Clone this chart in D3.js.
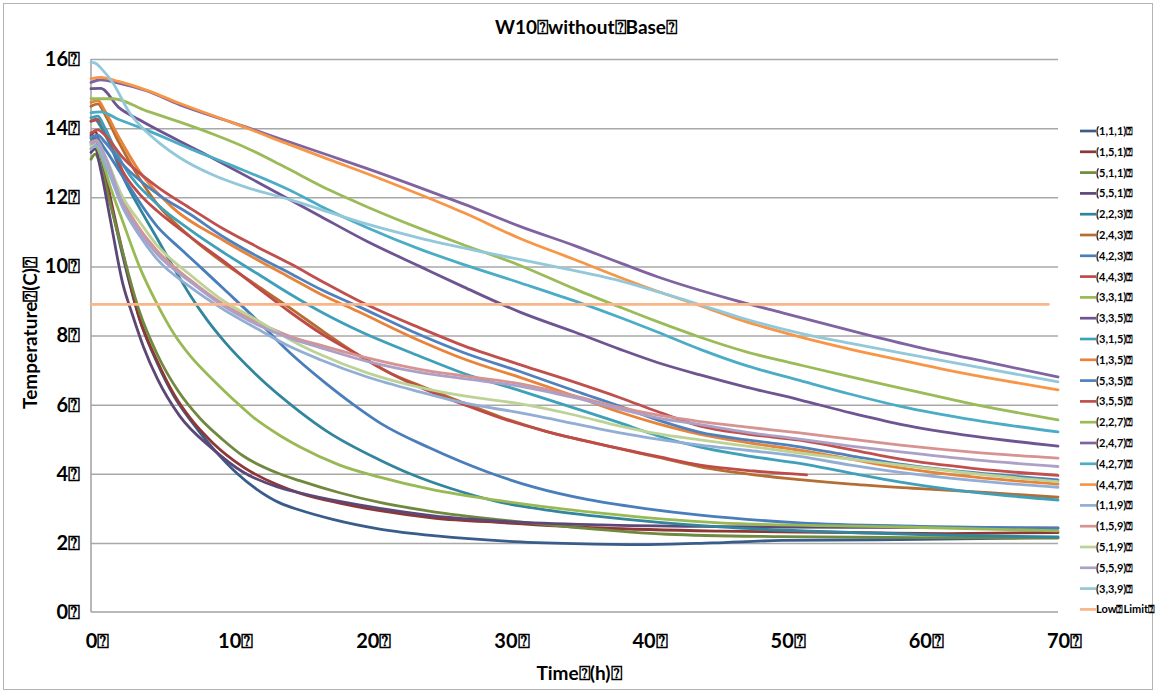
<!DOCTYPE html>
<html>
<head>
<meta charset="utf-8">
<script src="https://cdn.jsdelivr.net/npm/d3@7"></script>
<style>
  html, body { margin: 0; padding: 0; background: #ffffff; }
  svg { display: block; }
  text { font-family: Lato, "Open Sans", "DejaVu Sans", sans-serif; font-weight: bold; fill: #000; }
</style>
</head>
<body>
<svg id="chart" width="1156" height="694"></svg>
<script>
// ---------------- DATA ----------------
const chartTitle = "W10⍰without⍰Base⍰";
const xTitle = "Time⍰(h)⍰";
const yTitle = "Temperature⍰(C)⍰";
const xTicks = [0, 10, 20, 30, 40, 50, 60, 70];
const yTicks = [0, 2, 4, 6, 8, 10, 12, 14, 16];

const seriesNames = ["(1,1,1)", "(1,5,1)", "(5,1,1)", "(5,5,1)", "(2,2,3)", "(2,4,3)", "(4,2,3)", "(4,4,3)",
  "(3,3,1)", "(3,3,5)", "(3,1,5)", "(1,3,5)", "(5,3,5)", "(3,5,5)", "(2,2,7)", "(2,4,7)", "(4,2,7)", "(4,4,7)",
  "(1,1,9)", "(1,5,9)", "(5,1,9)", "(5,5,9)", "(3,3,9)", "Low⍰Limit"];

// [time (h), temperature (C)]
const s111 = [[0,13.6],[0.3,13.7],[0.7,13.2],[1.4,11.9],[2.3,10.3],[3.5,8.5],[4.8,7.2],[6,6.25],[7.2,5.55],[8.8,4.75],[10.6,4.0],[12,3.55],[13.7,3.15],[15.1,2.95],[17.5,2.68],[20.9,2.4],[25,2.2],[30,2.05],[35,1.98],[40,1.95],[45,2.0],[50,2.07],[60,2.1],[70,2.15]];
const s151 = [[0,13.8],[0.3,13.9],[0.7,13.4],[1.4,12.0],[2.3,10.4],[3.5,8.5],[4.8,7.25],[6,6.3],[7.2,5.6],[8.8,4.9],[11,4.2],[13.5,3.68],[15.1,3.44],[18,3.15],[20.9,2.93],[24.8,2.72],[30,2.58],[36.9,2.43],[45.5,2.34],[55,2.3],[62,2.27],[70,2.3]];
const s511 = [[0,13.1],[0.3,13.25],[0.7,12.9],[1.4,11.8],[2.3,10.4],[3.5,8.7],[4.8,7.45],[6.3,6.4],[7.9,5.6],[9.5,5.0],[11,4.52],[13.5,4.02],[15.1,3.8],[18,3.45],[20.9,3.17],[24.8,2.9],[30,2.65],[35,2.45],[41.7,2.25],[50,2.18],[60,2.15],[70,2.14]];
const s551 = [[0,13.3],[0.3,13.4],[0.7,12.8],[1.4,11.35],[2.3,9.5],[3,8.6],[3.8,7.67],[4.8,6.75],[6.4,5.68],[8.8,4.72],[11,4.05],[13.5,3.62],[15.1,3.45],[18,3.2],[20.9,3.0],[24.8,2.78],[30,2.62],[36.9,2.52],[45.5,2.47],[55,2.45],[62,2.44],[70,2.43]];
const s223 = [[0,14.2],[0.3,14.25],[0.7,14.05],[1.4,13.5],[2.3,12.6],[3.5,11.7],[4.8,10.8],[6,9.95],[7.2,9.15],[8.4,8.45],[9.6,7.85],[12,6.85],[15.1,5.8],[17,5.25],[20.9,4.4],[23.1,4.0],[26,3.58],[29.6,3.18],[33,2.95],[36.9,2.76],[45.5,2.46],[55,2.3],[62,2.22],[70,2.17]];
const s243 = [[0,14.63],[0.5,14.7],[1,14.4],[2,13.6],[3.5,12.55],[4.8,11.8],[7.2,10.85],[9.6,10.1],[12,9.45],[14.4,8.8],[16.8,8.12],[19.3,7.45],[21.7,6.9],[23.8,6.55],[27,6.05],[29.6,5.65],[33,5.22],[36.9,4.85],[41,4.48],[44.1,4.2],[48,3.97],[51.3,3.83],[55,3.7],[60,3.57],[65,3.45],[70,3.32]];
const s423 = [[0,13.7],[0.3,13.75],[1,13.4],[2.3,12.6],[4.8,11.15],[6.5,10.5],[8,9.95],[9.6,9.35],[12,8.45],[14.4,7.5],[16.8,6.68],[19,6.0],[21,5.45],[24.5,4.75],[28.7,4.05],[32,3.62],[36,3.25],[40,3.0],[44.1,2.8],[51.3,2.58],[60,2.48],[70,2.42]];
const s443 = [[0,14.2],[0.5,14.25],[1,14.0],[2.3,12.75],[3.5,12.1],[4.8,11.6],[7.2,10.85],[9.6,10.15],[12,9.4],[14.4,8.68],[16.8,8.02],[19.3,7.45],[21.7,6.9],[23.8,6.5],[27,6.0],[29.6,5.62],[33,5.22],[36.9,4.85],[41,4.5],[44.1,4.25],[48,4.08],[51.8,3.97]];
const s331 = [[0,13.4],[0.3,13.5],[0.7,13.2],[1.4,12.3],[2.3,11.3],[3.5,10.0],[4.8,8.9],[6,8.05],[7.2,7.4],[9,6.65],[10.3,6.15],[11.7,5.65],[13.7,5.1],[15.1,4.78],[18,4.25],[20.9,3.9],[24.8,3.53],[29.6,3.22],[36.9,2.86],[45.5,2.58],[58.6,2.46],[70,2.35]];
const s335 = [[0,15.14],[0.7,15.15],[2,14.6],[3.5,14.24],[8,13.3],[12,12.45],[16.6,11.45],[20,10.72],[23.8,10.0],[27,9.4],[31.1,8.67],[35,8.1],[38.3,7.6],[41,7.22],[44.1,6.86],[47.5,6.5],[51.3,6.14],[55,5.76],[58.6,5.43],[64,5.08],[70,4.8]];
const s315 = [[0,14.3],[0.5,14.35],[1,14.0],[2.3,12.95],[4.8,11.8],[7.2,11.05],[9.6,10.4],[12,9.8],[14.4,9.2],[16.8,8.65],[19.3,8.15],[23.8,7.4],[27,6.9],[31.1,6.4],[35,5.9],[38.3,5.47],[41,5.1],[44.1,4.77],[47.5,4.52],[51.3,4.3],[55,4.02],[58.6,3.76],[64,3.46],[70,3.24]];
const s135 = [[0,14.74],[0.5,14.8],[1,14.5],[2,13.75],[3.5,12.75],[5.9,11.7],[9.6,10.75],[12,10.2],[14.4,9.68],[16.6,9.2],[19.3,8.7],[23.8,7.85],[27,7.32],[31.1,6.78],[35,6.25],[38.3,5.78],[41,5.45],[44.1,5.14],[47.5,4.9],[51.3,4.68],[55,4.42],[58.6,4.17],[64,3.9],[70,3.7]];
const s535 = [[0,13.75],[0.5,13.8],[1,13.6],[2.3,12.95],[4.8,12.1],[7.2,11.5],[9.6,10.85],[12,10.3],[14.4,9.8],[16.8,9.3],[19.3,8.85],[23.8,8.02],[27,7.5],[31.1,6.95],[35,6.4],[38.3,5.95],[41,5.56],[44.1,5.2],[47.5,4.98],[51.3,4.78],[55,4.52],[58.6,4.28],[64,4.03],[70,3.82]];
const s355 = [[0,13.86],[0.5,13.95],[1,13.8],[2.3,13.15],[4.8,12.3],[7.2,11.68],[9.6,11.08],[12,10.57],[14.4,10.08],[16.8,9.55],[19.3,9.02],[23.8,8.22],[27,7.7],[31.1,7.15],[35,6.65],[38.3,6.2],[41,5.8],[44.1,5.38],[47.5,5.15],[51.3,4.97],[55,4.7],[58.6,4.42],[64,4.15],[70,3.95]];
const s227 = [[0,14.85],[1.6,14.85],[4,14.5],[6.4,14.18],[9,13.8],[11.3,13.42],[14,12.88],[17.3,12.2],[20,11.72],[23.8,11.1],[27,10.62],[31.1,10.02],[35,9.35],[38.3,8.82],[41,8.4],[44.1,7.95],[47.5,7.52],[51.3,7.15],[55,6.8],[58.6,6.48],[64,6.0],[70,5.56]];
const s247 = [[0,15.32],[0.7,15.4],[2,15.3],[4,15.08],[6.4,14.68],[9.8,14.22],[11.3,14.02],[14,13.65],[17.3,13.2],[20,12.83],[23.8,12.28],[27,11.8],[31.1,11.15],[35,10.6],[38.3,10.1],[41,9.7],[46.5,9.03],[50,8.66],[56.2,8.02],[60,7.65],[65,7.22],[70,6.8]];
const s427 = [[0,14.45],[0.7,14.47],[2,14.25],[4,13.95],[7.2,13.4],[10,12.95],[14.4,12.2],[16.6,11.75],[20,11.12],[23.8,10.5],[27,10.05],[31.1,9.52],[35,9.0],[38.3,8.52],[41,8.1],[44.1,7.6],[47.5,7.12],[51.3,6.7],[55,6.3],[58.6,5.95],[64,5.55],[70,5.21]];
const s447 = [[0,15.43],[0.7,15.47],[2,15.35],[4,15.1],[6.4,14.72],[9.8,14.22],[11.3,14.0],[14,13.58],[17.3,13.08],[20,12.68],[23.8,12.08],[27,11.55],[31.1,10.8],[35,10.2],[38.3,9.68],[41,9.28],[44.1,8.86],[47,8.45],[51.3,7.96],[55,7.6],[58.6,7.29],[62,7.0],[66,6.7],[70,6.43]];
const s119 = [[0,13.4],[0.4,13.5],[1,13.0],[2.3,11.7],[3.5,10.9],[4.8,10.2],[7.2,9.4],[9.6,8.75],[12,8.2],[14.4,7.68],[16.6,7.3],[20,6.8],[23.8,6.37],[27,6.05],[31.1,5.76],[35,5.45],[38.3,5.18],[41,5.0],[44.1,4.83],[47.5,4.68],[51.3,4.5],[55,4.25],[58.6,4.04],[64,3.8],[70,3.61]];
const s159 = [[0,13.6],[0.4,13.65],[1,13.2],[2.3,11.9],[3.5,11.1],[4.8,10.45],[7.2,9.6],[9.6,8.9],[12,8.4],[14.4,7.98],[16.6,7.72],[20,7.35],[23.8,7.02],[27,6.83],[31.1,6.6],[35,6.25],[38.3,5.92],[41,5.7],[44.1,5.51],[47.5,5.35],[51.3,5.18],[55,5.0],[58.6,4.83],[64,4.62],[70,4.45]];
const s519 = [[0,13.5],[0.4,13.6],[1,13.2],[2.3,12.0],[3.5,11.3],[4.8,10.6],[7.2,9.75],[9.6,9.0],[12,8.45],[14.4,7.88],[16.6,7.45],[20,6.92],[23.8,6.5],[27,6.25],[31.1,6.02],[35,5.7],[38.3,5.38],[41,5.16],[44.1,4.98],[47.5,4.8],[51.3,4.6],[55,4.42],[58.6,4.25],[64,4.0],[70,3.77]];
const s559 = [[0,13.55],[0.4,13.6],[1,13.2],[2.3,11.8],[3.5,11.0],[4.8,10.35],[7.2,9.55],[9.6,8.85],[12,8.32],[14.4,7.92],[16.6,7.65],[20,7.25],[23.8,6.93],[27,6.75],[31.1,6.53],[35,6.2],[38.3,5.87],[41,5.62],[44.1,5.42],[47.5,5.2],[51.3,5.0],[55,4.8],[58.6,4.63],[64,4.4],[70,4.21]];
const s339 = [[0,15.9],[0.3,15.88],[0.8,15.7],[1.6,15.3],[2.8,14.44],[4,13.9],[5,13.55],[6.4,13.15],[8.8,12.65],[11.3,12.28],[14.4,11.93],[16.6,11.65],[20,11.22],[23.8,10.82],[28.7,10.39],[33.5,10.0],[38.3,9.58],[41,9.27],[44.1,8.89],[47,8.52],[51.3,8.07],[55,7.77],[58.6,7.5],[64,7.1],[70,6.66]];
const lowLimit = [[0,8.9],[69.3,8.9]];

const seriesData = [s111, s151, s511, s551, s223, s243, s423, s443, s331, s335, s315, s135,
  s535, s355, s227, s247, s427, s447, s119, s159, s519, s559, s339, lowLimit];

const seriesColors = ["#385D8A", "#8C3836", "#71893F", "#5C4776", "#31859C", "#B66D31",
  "#4A7EBB", "#BE4B48", "#98B954", "#6E5592", "#3FA0BA", "#E8833A",
  "#4F81BD", "#C0504D", "#9BBB59", "#8064A2", "#4BACC6", "#F79646",
  "#93AED4", "#D69391", "#BDD395", "#ADA0C6", "#93C8DA", "#F8B68A"];

// ---------------- DRAW ----------------
const svg = d3.select("#chart");

svg.append("rect").attr("x", 3.5).attr("y", 3.5).attr("width", 1149).attr("height", 686)
  .attr("fill", "#fff").attr("stroke", "#B3B3B3").attr("stroke-width", 1);

const x = d3.scaleLinear().domain([0, 70]).range([91, 1058]);
const y = d3.scaleLinear().domain([0, 16]).range([612, 59]);

// gridlines
svg.append("g")
  .attr("transform", `translate(${x(0)},0)`)
  .call(d3.axisLeft(y).tickValues(yTicks.filter(v => v > 0)).tickSize(-(x(70) - x(0))).tickFormat(""))
  .call(g => g.select(".domain").remove())
  .call(g => g.selectAll("line").attr("stroke", "#A8A8A8").attr("stroke-width", 1.5));

// axis lines
svg.append("line").attr("x1", x(0)).attr("x2", x(0)).attr("y1", y(16)).attr("y2", y(0))
  .attr("stroke", "#A0A0A0").attr("stroke-width", 1.5);
svg.append("line").attr("x1", x(0)).attr("x2", x(70)).attr("y1", y(0)).attr("y2", y(0))
  .attr("stroke", "#A0A0A0").attr("stroke-width", 1.5);

// y tick labels
svg.append("g")
  .attr("transform", `translate(${x(0) - 11},0)`)
  .call(d3.axisLeft(y).tickValues(yTicks).tickSize(0).tickPadding(0).tickFormat(d => d + "⍰"))
  .call(g => g.select(".domain").remove())
  .call(g => g.selectAll("text").attr("font-size", 20).attr("font-family", "Lato, sans-serif")
    .attr("font-weight", "bold").attr("fill", "#000"));

// x tick labels
svg.append("g")
  .attr("transform", `translate(6,${y(0) + 22})`)
  .call(d3.axisBottom(x).tickValues(xTicks).tickSize(0).tickPadding(0).tickFormat(d => d + "⍰"))
  .call(g => g.select(".domain").remove())
  .call(g => g.selectAll("text").attr("font-size", 20).attr("font-family", "Lato, sans-serif")
    .attr("font-weight", "bold").attr("fill", "#000"));

// lines
const line = d3.line().x(d => x(d[0])).y(d => y(d[1])).curve(d3.curveMonotoneX);
svg.append("g").selectAll("path").data(seriesData).join("path")
  .attr("d", line)
  .attr("fill", "none")
  .attr("stroke", (d, i) => seriesColors[i])
  .attr("stroke-width", 2.8)
  .attr("stroke-linejoin", "round")
  .attr("stroke-linecap", "round");

// titles
svg.append("text").attr("x", 586).attr("y", 34).attr("text-anchor", "middle")
  .attr("font-size", 19).text(chartTitle);
svg.append("text").attr("x", 579).attr("y", 680).attr("text-anchor", "middle")
  .attr("font-size", 19).text(xTitle);
svg.append("text").attr("transform", "translate(37,333) rotate(-90)").attr("text-anchor", "middle")
  .attr("font-size", 19).text(yTitle);

// legend
const legend = svg.append("g");
const items = legend.selectAll("g").data(seriesNames).join("g")
  .attr("transform", (d, i) => `translate(1080,${131 + i * 20.8})`);
items.append("line").attr("x1", 0).attr("x2", 16).attr("y1", 0).attr("y2", 0)
  .attr("stroke", (d, i) => seriesColors[i]).attr("stroke-width", 2.7);
items.append("text").attr("x", 16).attr("y", 4).attr("font-size", 11)
  .text(d => d + "⍰");
</script>
</body>
</html>
